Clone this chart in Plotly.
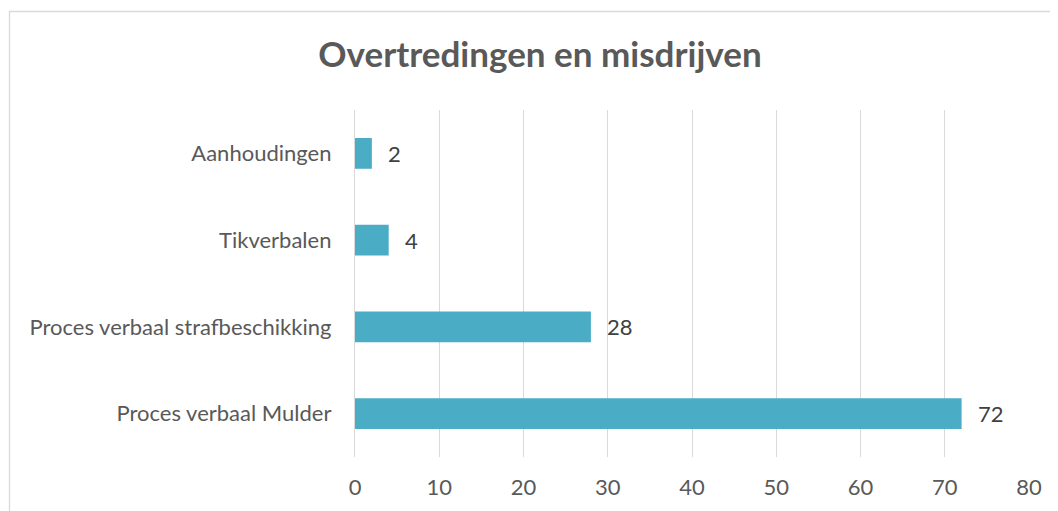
import plotly.graph_objects as go

categories = ["Proces verbaal Mulder", "Proces verbaal strafbeschikking", "Tikverbalen", "Aanhoudingen"]
values = [72, 28, 4, 2]
x_ticks = [0, 10, 20, 30, 40, 50, 60, 70, 80]
title = "Overtredingen en misdrijven"

OFF = 8  # page body margin
W, H = 1058 - OFF, 511 - OFF
ml = 355 - OFF
mt = 110 - OFF
mr = W - (1029 - OFF)
mb = H - (457 - OFF)
pw, ph = W - ml - mr, H - mt - mb

def px_x(p):
    return (p - OFF - ml) / pw

def px_y(p):
    return (mt + ph - (p - OFF)) / ph

FONT = "Lato, Carlito, sans-serif"

fig = go.Figure()
fig.add_trace(go.Bar(
    x=values, y=categories, orientation="h",
    marker=dict(color="#4BACC6", line=dict(width=0)),
    width=0.355, hoverinfo="skip",
))

for c, v in zip(categories, values):
    fig.add_annotation(x=v, y=c, text=str(v), showarrow=False,
                       xanchor="left", xshift=14,
                       font=dict(family=FONT, size=22, color="#404040"))

fig.add_shape(type="rect", xref="paper", yref="paper",
              x0=px_x(9.5), x1=px_x(1075), y0=px_y(530), y1=px_y(11.5),
              line=dict(color="#D9D9D9", width=1.3), fillcolor="rgba(0,0,0,0)")

fig.update_layout(
    template="none",
    width=W, height=H,
    margin=dict(l=ml, r=mr, t=mt, b=mb, autoexpand=False),
    paper_bgcolor="white", plot_bgcolor="white",
    showlegend=False,
    title=dict(text="<b>" + title + "</b>", x=(540 - OFF) / W, xanchor="center",
               y=1 - (55 - OFF) / H, yanchor="middle",
               font=dict(family=FONT, size=35, color="#595959")),
    xaxis=dict(range=[0, 80], tickvals=x_ticks, ticktext=[str(t) for t in x_ticks],
               automargin=False,
               showgrid=True, gridcolor="#D9D9D9", gridwidth=1.3,
               zeroline=False, showline=False,
               ticks="outside", ticklen=11, tickcolor="rgba(0,0,0,0)",
               tickfont=dict(family=FONT, size=22, color="#595959")),
    yaxis=dict(categoryorder="array", categoryarray=categories,
               automargin=False,
               showgrid=False, showline=True, linecolor="#D9D9D9", linewidth=1.3,
               zeroline=False,
               ticks="outside", ticklen=18, tickcolor="rgba(0,0,0,0)",
               tickfont=dict(family=FONT, size=22, color="#595959")),
)

fig.write_html("out.html")
